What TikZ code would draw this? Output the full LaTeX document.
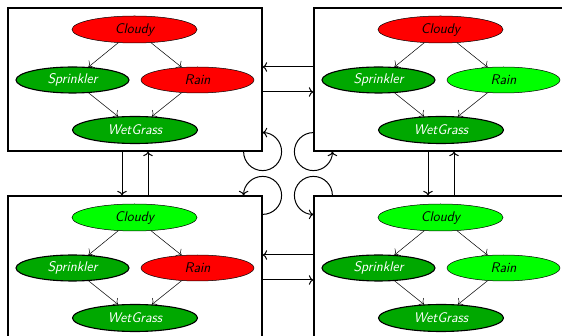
\documentclass[tikz,border=0pt]{standalone}
\usepackage{fontspec}
\usetikzlibrary{shapes.geometric,arrows.meta}
\definecolor{dkgreen}{HTML}{00A800}
\definecolor{ltgreen}{HTML}{00FF00}
\definecolor{bred}{HTML}{FF0000}
\tikzset{
  var/.style={ellipse, draw, inner sep=0pt, font=\sffamily\itshape\fontsize{14}{16}\selectfont},
  wide/.style={minimum width=125pt, minimum height=27pt},
  narrow/.style={minimum width=113pt, minimum height=26pt},
  obs/.style={var, fill=dkgreen, text=white, line width=1.1pt},
  hidr/.style={var, fill=bred, line width=0.5pt},
  hidg/.style={var, fill=ltgreen, line width=0.5pt},
  frame/.style={draw, line width=1.2pt, minimum width=254pt, minimum height=143pt, inner sep=0pt},
  dep/.style={-{To[scale=1.7]}, line width=0.5pt},
  flow/.style={-{To[scale=1.2]}, line width=1pt},
}
\newcommand\bayesnet[4]{%
  \begin{scope}[shift={(#2)}]
    \node[frame] (#1box) at (135,79.5) {};
    \node[#3, wide] (#1c) at (134.5,29.5) {Cloudy};
    \node[obs, narrow] (#1s) at (72.5,80) {Sprinkler};
    \node[#4, narrow] (#1r) at (197.5,80) {Rain};
    \node[obs, wide] (#1w) at (135,130) {WetGrass};
    \draw[dep] (#1c) -- (#1s);
    \draw[dep] (#1c) -- (#1r);
    \draw[dep] (#1s) -- (#1w);
    \draw[dep] (#1r) -- (#1w);
  \end{scope}}
\begin{document}
\begin{tikzpicture}[x=1pt,y=-1pt]
  \clip (0,0) rectangle (562,336);
  \bayesnet{TL}{0,0}{hidr}{hidr}
  \bayesnet{TR}{306,0}{hidr}{hidg}
  \bayesnet{BL}{0,188}{hidg}{hidr}
  \bayesnet{BR}{306,188}{hidg}{hidg}
  % horizontal transitions
  \draw[flow] ([yshift=12.5pt]TRbox.west) -- ([yshift=12.5pt]TLbox.east);
  \draw[flow] ([yshift=-12.5pt]TLbox.east) -- ([yshift=-12.5pt]TRbox.west);
  \draw[flow] ([yshift=12.5pt]BRbox.west) -- ([yshift=12.5pt]BLbox.east);
  \draw[flow] ([yshift=-12.5pt]BLbox.east) -- ([yshift=-12.5pt]BRbox.west);
  % vertical transitions
  \draw[flow] ([xshift=-13pt]TLbox.south) -- ([xshift=-13pt]BLbox.north);
  \draw[flow] ([xshift=13pt]BLbox.north) -- ([xshift=13pt]TLbox.south);
  \draw[flow] ([xshift=-13pt]TRbox.south) -- ([xshift=-13pt]BRbox.north);
  \draw[flow] ([xshift=13pt]BRbox.north) -- ([xshift=13pt]TRbox.south);
  % self loops
  \draw[flow] ([xshift=-19pt]TLbox.south east) arc[start angle=180, end angle=450, radius=19pt];
  \draw[flow] ([yshift=19pt]TRbox.south west) arc[start angle=90, end angle=360, radius=19pt];
  \draw[flow] ([yshift=-19pt]BLbox.north east) arc[start angle=-90, end angle=180, radius=19pt];
  \draw[flow] ([xshift=19pt]BRbox.north west) arc[start angle=0, end angle=270, radius=19pt];
\end{tikzpicture}
\end{document}
